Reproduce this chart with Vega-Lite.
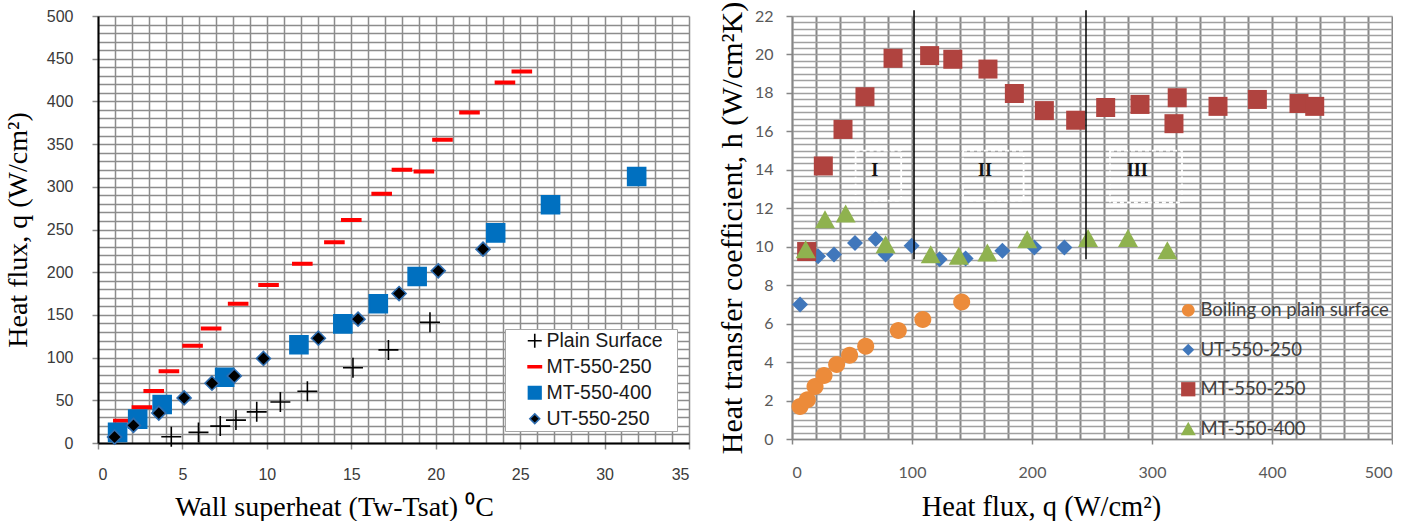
{
  "$schema": "https://vega.github.io/schema/vega-lite/v6.json",
  "usermeta": {"embedOptions": {"actions": false}},
  "background": "white",
  "padding": {"left": 4, "top": 1, "right": 0, "bottom": 0},
  "spacing": 27,
  "align": "each",
  "config": {"view": {"stroke": null}},
  "resolve": {
    "scale": {"shape": "independent", "fill": "independent", "stroke": "independent", "color": "independent"},
    "legend": {"shape": "independent", "fill": "independent", "stroke": "independent", "color": "independent"}
  },
  "datasets": {
    "left": [
      {"series": "MT-550-250", "x": 1.5, "y": 26},
      {"series": "MT-550-250", "x": 2.6, "y": 42},
      {"series": "MT-550-250", "x": 3.3, "y": 61},
      {"series": "MT-550-250", "x": 4.2, "y": 84},
      {"series": "MT-550-250", "x": 5.6, "y": 114},
      {"series": "MT-550-250", "x": 6.7, "y": 134},
      {"series": "MT-550-250", "x": 8.3, "y": 163},
      {"series": "MT-550-250", "x": 10.1, "y": 185},
      {"series": "MT-550-250", "x": 12.1, "y": 210},
      {"series": "MT-550-250", "x": 14.0, "y": 235},
      {"series": "MT-550-250", "x": 15.0, "y": 261},
      {"series": "MT-550-250", "x": 16.8, "y": 292},
      {"series": "MT-550-250", "x": 18.0, "y": 320},
      {"series": "MT-550-250", "x": 19.3, "y": 318},
      {"series": "MT-550-250", "x": 20.4, "y": 355},
      {"series": "MT-550-250", "x": 22.0, "y": 387},
      {"series": "MT-550-250", "x": 24.1, "y": 422},
      {"series": "MT-550-250", "x": 25.1, "y": 435},
      {"series": "MT-550-400", "x": 1.16, "y": 12.4},
      {"series": "MT-550-400", "x": 2.35, "y": 28},
      {"series": "MT-550-400", "x": 3.8, "y": 45},
      {"series": "MT-550-400", "x": 7.5, "y": 77},
      {"series": "MT-550-400", "x": 11.9, "y": 115},
      {"series": "MT-550-400", "x": 14.5, "y": 139.5},
      {"series": "MT-550-400", "x": 16.6, "y": 163},
      {"series": "MT-550-400", "x": 18.9, "y": 195},
      {"series": "MT-550-400", "x": 23.55, "y": 246},
      {"series": "MT-550-400", "x": 26.8, "y": 279},
      {"series": "MT-550-400", "x": 31.9, "y": 312},
      {"series": "UT-550-250", "x": 0.98, "y": 7},
      {"series": "UT-550-250", "x": 2.1, "y": 20.6},
      {"series": "UT-550-250", "x": 3.6, "y": 35},
      {"series": "UT-550-250", "x": 5.1, "y": 52.8},
      {"series": "UT-550-250", "x": 6.75, "y": 70},
      {"series": "UT-550-250", "x": 8.07, "y": 78.5},
      {"series": "UT-550-250", "x": 9.8, "y": 99},
      {"series": "UT-550-250", "x": 13.05, "y": 122.7},
      {"series": "UT-550-250", "x": 15.4, "y": 145},
      {"series": "UT-550-250", "x": 17.83, "y": 175},
      {"series": "UT-550-250", "x": 20.15, "y": 201.6},
      {"series": "UT-550-250", "x": 22.8, "y": 227},
      {"series": "Plain Surface", "x": 4.34, "y": 7.4},
      {"series": "Plain Surface", "x": 5.95, "y": 12.4},
      {"series": "Plain Surface", "x": 7.24, "y": 19.8},
      {"series": "Plain Surface", "x": 8.17, "y": 26.8},
      {"series": "Plain Surface", "x": 9.4, "y": 36.5},
      {"series": "Plain Surface", "x": 10.8, "y": 48},
      {"series": "Plain Surface", "x": 12.4, "y": 60.6},
      {"series": "Plain Surface", "x": 15.1, "y": 88.2},
      {"series": "Plain Surface", "x": 17.2, "y": 109},
      {"series": "Plain Surface", "x": 19.66, "y": 141.4}
    ],
    "right": [
      {"series2": "Boiling on plain surface", "x": 6.7, "y": 1.69},
      {"series2": "Boiling on plain surface", "x": 12.8, "y": 2.04},
      {"series2": "Boiling on plain surface", "x": 19.2, "y": 2.73},
      {"series2": "Boiling on plain surface", "x": 26.7, "y": 3.3},
      {"series2": "Boiling on plain surface", "x": 37.2, "y": 3.87},
      {"series2": "Boiling on plain surface", "x": 48, "y": 4.35},
      {"series2": "Boiling on plain surface", "x": 61.4, "y": 4.82},
      {"series2": "Boiling on plain surface", "x": 88.6, "y": 5.64},
      {"series2": "Boiling on plain surface", "x": 109, "y": 6.22},
      {"series2": "Boiling on plain surface", "x": 141.4, "y": 7.12},
      {"series2": "UT-550-250", "x": 6.7, "y": 7.0},
      {"series2": "UT-550-250", "x": 21.7, "y": 9.5},
      {"series2": "UT-550-250", "x": 35, "y": 9.6},
      {"series2": "UT-550-250", "x": 52.5, "y": 10.2},
      {"series2": "UT-550-250", "x": 69.7, "y": 10.4},
      {"series2": "UT-550-250", "x": 78, "y": 9.6},
      {"series2": "UT-550-250", "x": 99.7, "y": 10.05},
      {"series2": "UT-550-250", "x": 123, "y": 9.35},
      {"series2": "UT-550-250", "x": 144.7, "y": 9.39},
      {"series2": "UT-550-250", "x": 175.3, "y": 9.79},
      {"series2": "UT-550-250", "x": 202, "y": 9.96},
      {"series2": "UT-550-250", "x": 227, "y": 9.96},
      {"series2": "MT-550-250", "x": 12.2, "y": 9.75},
      {"series2": "MT-550-250", "x": 26.1, "y": 14.2},
      {"series2": "MT-550-250", "x": 42.5, "y": 16.1},
      {"series2": "MT-550-250", "x": 60.8, "y": 17.8},
      {"series2": "MT-550-250", "x": 84.2, "y": 19.8},
      {"series2": "MT-550-250", "x": 114.7, "y": 19.94},
      {"series2": "MT-550-250", "x": 134, "y": 19.75},
      {"series2": "MT-550-250", "x": 163.3, "y": 19.24},
      {"series2": "MT-550-250", "x": 185.3, "y": 17.97},
      {"series2": "MT-550-250", "x": 210.3, "y": 17.08},
      {"series2": "MT-550-250", "x": 236.4, "y": 16.58},
      {"series2": "MT-550-250", "x": 261.4, "y": 17.24},
      {"series2": "MT-550-250", "x": 290, "y": 17.4},
      {"series2": "MT-550-250", "x": 321, "y": 17.75},
      {"series2": "MT-550-250", "x": 318.3, "y": 16.4},
      {"series2": "MT-550-250", "x": 355, "y": 17.3},
      {"series2": "MT-550-250", "x": 387.8, "y": 17.66},
      {"series2": "MT-550-250", "x": 422.5, "y": 17.45},
      {"series2": "MT-550-250", "x": 435.6, "y": 17.3},
      {"series2": "MT-550-400", "x": 11.4, "y": 9.84},
      {"series2": "MT-550-400", "x": 27.5, "y": 11.4},
      {"series2": "MT-550-400", "x": 44.7, "y": 11.7},
      {"series2": "MT-550-400", "x": 78, "y": 10.1},
      {"series2": "MT-550-400", "x": 115.6, "y": 9.58},
      {"series2": "MT-550-400", "x": 139, "y": 9.5},
      {"series2": "MT-550-400", "x": 162.8, "y": 9.67},
      {"series2": "MT-550-400", "x": 196, "y": 10.36},
      {"series2": "MT-550-400", "x": 246.7, "y": 10.43},
      {"series2": "MT-550-400", "x": 280, "y": 10.43},
      {"series2": "MT-550-400", "x": 312.8, "y": 9.79}
    ],
    "dividers": [
      {"x": 101.7, "y": 9.35, "y2": 22.3},
      {"x": 245, "y": 9.35, "y2": 22.3}
    ],
    "boxes": [
      {"x": 53, "x2": 91, "y": 12.4, "y2": 15.0},
      {"x": 142.5, "x2": 193, "y": 12.4, "y2": 15.0},
      {"x": 265, "x2": 325, "y": 12.3, "y2": 15.0}
    ],
    "regions": [
      {"x": 69, "y": 13.95, "label": "I"},
      {"x": 160.8, "y": 13.95, "label": "II"},
      {"x": 287.8, "y": 13.95, "label": "III"}
    ]
  },
  "hconcat": [
    {
      "width": 591,
      "height": 427,
      "data": {"name": "left"},
      "mark": {"type": "point", "size": 400, "strokeWidth": 1.6, "opacity": 1},
      "encoding": {
        "x": {
          "field": "x", "type": "quantitative",
          "scale": {"domain": [0, 35], "nice": false, "zero": false},
          "axis": {
            "title": "Wall superheat (Tw-Tsat) ⁰C",
            "values": [0,1,2,3,4,5,6,7,8,9,10,11,12,13,14,15,16,17,18,19,20,21,22,23,24,25,26,27,28,29,30,31,32,33,34,35],
            "labelExpr": "datum.value % 5 === 0 ? datum.label : ''",
            "labelOverlap": false,
            "labelFont": "Liberation Sans", "labelFontSize": 16, "labelColor": "#3a3a3a",
            "labelPadding": 17,
            "tickSize": 6, "tickColor": "#8c8c8c", "tickWidth": 1.5,
            "tickOpacity": {"condition": {"test": "datum.value % 5 === 0", "value": 1}, "value": 0},
            "grid": true, "gridColor": "#8c8c8c", "gridWidth": 1.5,
            "domainColor": "#000000", "domainWidth": 2,
            "titleFont": "Liberation Serif", "titleFontSize": 28, "titleFontWeight": "normal", "titleColor": "#000000",
            "titlePadding": 11, "titleX": 236, "titleAlign": "center"
          }
        },
        "y": {
          "field": "y", "type": "quantitative",
          "scale": {"domain": [0, 500], "nice": false},
          "axis": {
            "title": "Heat flux, q (W/cm²)",
            "values": [0,10,20,30,40,50,60,70,80,90,100,110,120,130,140,150,160,170,180,190,200,210,220,230,240,250,260,270,280,290,300,310,320,330,340,350,360,370,380,390,400,410,420,430,440,450,460,470,480,490,500],
            "labelExpr": "datum.value % 50 === 0 ? datum.label : ''",
            "labelOverlap": false,
            "labelFont": "Liberation Sans", "labelFontSize": 16, "labelColor": "#3a3a3a",
            "labelPadding": 19,
            "tickSize": 6, "tickColor": "#8c8c8c", "tickWidth": 1.5,
            "tickOpacity": {"condition": {"test": "datum.value % 50 === 0", "value": 1}, "value": 0},
            "grid": true, "gridColor": "#8c8c8c", "gridWidth": 1.5,
            "domainColor": "#000000", "domainWidth": 2,
            "titleFont": "Liberation Serif", "titleFontSize": 28, "titleFontWeight": "normal", "titleColor": "#000000",
            "titlePadding": 14
          }
        },
        "shape": {
          "field": "series", "type": "nominal",
          "scale": {
            "domain": ["Plain Surface", "MT-550-250", "MT-550-400", "UT-550-250"],
            "range": ["M-1,0H1M0,-1V1", "M-0.95,-0.12H0.95V0.12H-0.95Z", "M-0.9,-0.9H0.9V0.9H-0.9Z", "M0,-0.7L0.7,0L0,0.7L-0.7,0Z"]
          },
          "legend": {
            "title": " ", "titleOrient": "right", "titleFontSize": 4, "titlePadding": 13,
            "orient": "none", "legendX": 407, "legendY": 313,
            "fillColor": "#ffffff", "strokeColor": "#a6a6a6", "padding": 2,
            "symbolOffset": 18, "symbolSize": 196, "symbolStrokeWidth": 1.6,
            "labelFont": "Liberation Sans", "labelFontSize": 19.5, "labelColor": "#1a1a1a", "labelLimit": 400,
            "labelOffset": 2, "rowPadding": 5
          }
        },
        "fill": {
          "field": "series", "type": "nominal",
          "scale": {
            "domain": ["Plain Surface", "MT-550-250", "MT-550-400", "UT-550-250"],
            "range": ["transparent", "#ff0000", "#0070c0", "#000000"]
          },
          "legend": {
            "title": " ", "titleOrient": "right", "titleFontSize": 4, "titlePadding": 13,
            "orient": "none", "legendX": 407, "legendY": 313,
            "fillColor": "#ffffff", "strokeColor": "#a6a6a6", "padding": 2,
            "symbolOffset": 18, "symbolSize": 196, "symbolStrokeWidth": 1.6,
            "labelFont": "Liberation Sans", "labelFontSize": 19.5, "labelColor": "#1a1a1a", "labelLimit": 400,
            "labelOffset": 2, "rowPadding": 5
          }
        },
        "stroke": {
          "field": "series", "type": "nominal",
          "scale": {
            "domain": ["Plain Surface", "MT-550-250", "MT-550-400", "UT-550-250"],
            "range": ["#000000", "#ff0000", "#0070c0", "#2e6db0"]
          },
          "legend": {
            "title": " ", "titleOrient": "right", "titleFontSize": 4, "titlePadding": 13,
            "orient": "none", "legendX": 407, "legendY": 313,
            "fillColor": "#ffffff", "strokeColor": "#a6a6a6", "padding": 2,
            "symbolOffset": 18, "symbolSize": 196, "symbolStrokeWidth": 1.6,
            "labelFont": "Liberation Sans", "labelFontSize": 19.5, "labelColor": "#1a1a1a", "labelLimit": 400,
            "labelOffset": 2, "rowPadding": 5
          }
        }
      }
    },
    {
      "width": 600,
      "height": 423,
      "encoding": {
        "x": {
          "field": "x", "type": "quantitative",
          "scale": {"domain": [0, 500], "nice": false, "zero": false},
          "axis": {
            "title": "Heat flux, q (W/cm²)",
            "values": [0,20,40,60,80,100,120,140,160,180,200,220,240,260,280,300,320,340,360,380,400,420,440,460,480,500],
            "labelExpr": "datum.value % 100 === 0 ? datum.label : ''",
            "labelOverlap": false,
            "labelFont": "Lato", "labelFontSize": 16, "labelColor": "#595959",
            "labelPadding": 20,
            "tickSize": 5, "tickColor": "#868686", "tickWidth": 1.5,
            "tickOpacity": {"condition": {"test": "datum.value % 100 === 0", "value": 1}, "value": 0},
            "grid": true, "gridColor": "#878787", "gridWidth": 2,
            "domainColor": "#868686", "domainWidth": 1.5,
            "titleFont": "Liberation Serif", "titleFontSize": 28.5, "titleFontWeight": "normal", "titleColor": "#000000",
            "titlePadding": 12, "titleX": 249, "titleAlign": "center"
          }
        },
        "y": {
          "field": "y", "type": "quantitative",
          "scale": {"domain": [0, 22], "nice": false, "zero": false},
          "axis": {
            "title": "Heat transfer coefficient, h (W/cm²K)",
            "values": [0,0.3333,0.6667,1,1.3333,1.6667,2,2.3333,2.6667,3,3.3333,3.6667,4,4.3333,4.6667,5,5.3333,5.6667,6,6.3333,6.6667,7,7.3333,7.6667,8,8.3333,8.6667,9,9.3333,9.6667,10,10.3333,10.6667,11,11.3333,11.6667,12,12.3333,12.6667,13,13.3333,13.6667,14,14.3333,14.6667,15,15.3333,15.6667,16,16.3333,16.6667,17,17.3333,17.6667,18,18.3333,18.6667,19,19.3333,19.6667,20,20.3333,20.6667,21,21.3333,21.6667,22],
            "labelExpr": "datum.value % 2 === 0 ? '' + datum.value : ''",
            "labelOverlap": false,
            "labelFont": "Lato", "labelFontSize": 16, "labelColor": "#595959",
            "labelPadding": 13,
            "tickSize": 6, "tickColor": "#868686", "tickWidth": 1.5,
            "tickOpacity": {"condition": {"test": "datum.value % 2 === 0", "value": 1}, "value": 0},
            "grid": true, "gridColor": "#a0a0a0", "gridWidth": 1.3,
            "domainColor": "#868686", "domainWidth": 1.5,
            "titleFont": "Liberation Serif", "titleFontSize": 30, "titleFontWeight": "normal", "titleColor": "#000000",
            "titlePadding": 7
          }
        }
      },
      "layer": [
        {
          "data": {"name": "right"},
          "mark": {"type": "point", "size": 400, "filled": true, "opacity": 1, "strokeWidth": 0},
          "encoding": {
            "shape": {
              "field": "series2", "type": "nominal",
              "scale": {
                "domain": ["Boiling on plain surface", "UT-550-250", "MT-550-250", "MT-550-400"],
                "range": ["M-0.85,0A0.85,0.85,0,1,1,0.85,0A0.85,0.85,0,1,1,-0.85,0Z", "M0,-0.8L0.8,0L0,0.8L-0.8,0Z", "M-0.95,-0.95H0.95V0.95H-0.95Z", "M0,-0.95L1,0.85L-1,0.85Z"]
              },
              "legend": {
                "title": null, "orient": "none", "legendX": 387, "legendY": 285,
                "padding": 0, "symbolSize": 225, "symbolStrokeWidth": 0,
                "labelFont": "Lato", "labelFontSize": 18.5, "labelColor": "#404040", "labelLimit": 400,
                "labelOffset": 3, "rowPadding": 20.5
              }
            },
            "color": {
              "field": "series2", "type": "nominal",
              "scale": {
                "domain": ["Boiling on plain surface", "UT-550-250", "MT-550-250", "MT-550-400"],
                "range": ["#ec8b3a", "#4077bb", "#b0433f", "#8fb24f"]
              },
              "legend": {
                "title": null, "orient": "none", "legendX": 387, "legendY": 285,
                "padding": 0, "symbolSize": 225, "symbolStrokeWidth": 0,
                "labelFont": "Lato", "labelFontSize": 18.5, "labelColor": "#404040", "labelLimit": 400,
                "labelOffset": 3, "rowPadding": 20.5
              }
            }
          }
        },
        {
          "data": {"name": "dividers"},
          "mark": {"type": "rule", "color": "#000000", "strokeWidth": 1.5},
          "encoding": {
            "y2": {"field": "y2"}
          }
        },
        {
          "data": {"name": "boxes"},
          "mark": {"type": "rect", "filled": false, "color": "#ffffff", "strokeDash": [4, 3], "strokeWidth": 1.8},
          "encoding": {
            "x2": {"field": "x2"},
            "y2": {"field": "y2"}
          }
        },
        {
          "data": {"name": "regions"},
          "mark": {"type": "text", "font": "Liberation Serif", "fontWeight": "bold", "fontSize": 18, "color": "#111111"},
          "encoding": {
            "text": {"field": "label"}
          }
        }
      ]
    }
  ]
}
